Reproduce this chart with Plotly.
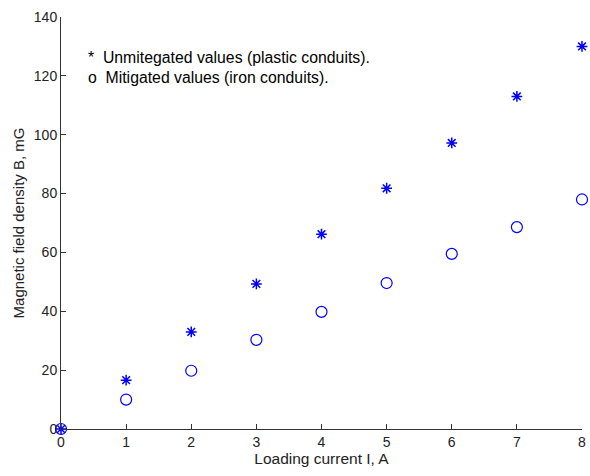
import plotly.graph_objects as go

# Loading current (A) and measured magnetic flux density (mG)
current = [0, 1, 2, 3, 4, 5, 6, 7, 8]
unmitigated = [0, 16.6, 33.0, 49.3, 66.2, 81.8, 97.2, 113.0, 130.0]
mitigated = [0, 10.0, 19.8, 30.3, 39.8, 49.6, 59.5, 68.6, 78.0]

x_ticks = [0, 1, 2, 3, 4, 5, 6, 7, 8]
y_ticks = [0, 20, 40, 60, 80, 100, 120, 140]

BLUE = "#0000ff"
FONT = "Liberation Sans, Arial, sans-serif"

fig = go.Figure()
fig.add_trace(go.Scatter(
    x=current, y=unmitigated, mode="markers",
    marker=dict(symbol="asterisk-open", size=9, color=BLUE,
                line=dict(color=BLUE, width=1.5)),
    name="Unmitegated values (plastic conduits).",
    cliponaxis=False,
))
fig.add_trace(go.Scatter(
    x=current, y=mitigated, mode="markers",
    marker=dict(symbol="circle-open", size=11, color=BLUE,
                line=dict(color=BLUE, width=1.2)),
    name="Mitigated values (iron conduits).",
    cliponaxis=False,
))

# Legend drawn as plain text lines inside the axes
fig.add_annotation(x=0.38, y=126.2, xref="x", yref="y",
                   text="*  Unmitegated values (plastic conduits).",
                   showarrow=False, xanchor="left", yanchor="middle",
                   font=dict(family=FONT, size=15.8, color="#000000"))
fig.add_annotation(x=0.38, y=119.6, xref="x", yref="y",
                   text="o  Mitigated values (iron conduits).",
                   showarrow=False, xanchor="left", yanchor="middle",
                   font=dict(family=FONT, size=15.8, color="#000000"))

axis_common = dict(
    showgrid=False, zeroline=False, showline=True,
    linecolor="#333333", linewidth=1,
    ticks="inside", ticklen=5, tickcolor="#333333", tickwidth=1,
    tickfont=dict(family=FONT, size=14, color="#222222"),
    ticklabeloverflow="allow",
    mirror=False,
)

fig.update_layout(
    width=590, height=476,
    margin=dict(l=61, r=4, t=17, b=47),
    paper_bgcolor="white", plot_bgcolor="white",
    showlegend=False,
    xaxis=dict(range=[0, 8], tickvals=x_ticks,
               title=dict(text="Loading current I, A", standoff=3,
                          font=dict(family=FONT, size=15.5, color="#222222")),
               **axis_common),
    yaxis=dict(range=[0, 140], tickvals=y_ticks,
               title=dict(text="Magnetic field density B, mG", standoff=5,
                          font=dict(family=FONT, size=15, color="#222222")),
               **axis_common),
)

fig.write_html("out.html")
